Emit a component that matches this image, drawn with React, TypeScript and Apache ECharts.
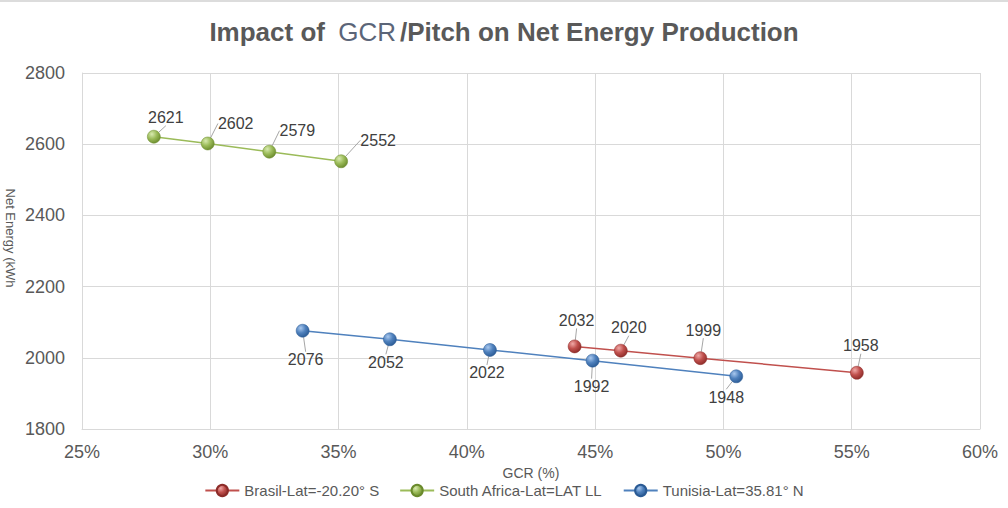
import React, { useEffect, useRef } from "react";
import * as echarts from "echarts";

const seriesNames = ["Brasil-Lat=-20.20° S", "South Africa-Lat=LAT LL", "Tunisia-Lat=35.81° N"];
const brasilGcr = [44.2, 46.0, 49.1, 55.2];
const brasilEnergy = [2032, 2020, 1999, 1958];
const southAfricaGcr = [27.8, 29.9, 32.3, 35.1];
const southAfricaEnergy = [2621, 2602, 2579, 2552];
const tunisiaGcr = [33.6, 37.0, 40.9, 44.9, 50.5];
const tunisiaEnergy = [2076, 2052, 2022, 1992, 1948];
const yAxisTitle = "Net Energy (kWh";

// label offsets (px) relative to marker centre, per series
const labelOffsets: number[][][] = [
  [[2, -26], [8, -23], [3, -28], [4, -27]],
  [[12, -19], [28, -20], [28, -21], [37, -21]],
  [[3, 29], [-4, 23], [-3, 23], [-1, 26], [-10, 21]],
];

const colors = [
  { base: "#c0504d", light: "#f0a9a7", dark: "#8c2b28" },
  { base: "#9bbb59", light: "#d8eab0", dark: "#6a8a2c" },
  { base: "#4f81bd", light: "#a9c8ee", dark: "#2a5a94" },
];

function zip(xs: number[], ys: number[]) {
  return xs.map((x, i) => [x, ys[i]]);
}

export default function App() {
  const ref = useRef<HTMLDivElement>(null);
  useEffect(() => {
    document.body.style.margin = "0";
    if (!ref.current) return;
    const chart = echarts.init(ref.current, null, { renderer: "svg" });
    const datas = [
      zip(brasilGcr, brasilEnergy),
      zip(southAfricaGcr, southAfricaEnergy),
      zip(tunisiaGcr, tunisiaEnergy),
    ];
    const font = "Liberation Sans, Arial, sans-serif";
    chart.setOption({
      animation: false,
      backgroundColor: "#ffffff",
      textStyle: { fontFamily: font },
      graphic: [
        { type: "rect", left: 0, top: 0, shape: { width: 1008, height: 2 }, style: { fill: "#dcdcdc" } },
        {
          type: "text",
          x: 10,
          y: 238,
          rotation: -Math.PI / 2,
          style: {
            text: yAxisTitle,
            fontSize: 13,
            fill: "#595959",
            fontFamily: font,
            align: "center",
            verticalAlign: "middle",
          },
        },
      ],
      title: {
        text: "Impact of {g|GCR}/Pitch on Net Energy Production",
        left: "center",
        top: 14,
        textStyle: {
          fontSize: 26,
          fontWeight: "bold",
          color: "#595959",
          fontFamily: font,
          rich: {
            g: { fontSize: 26, fontWeight: "normal", color: "#5b6578", fontFamily: font, padding: [0, 4, 0, 6] },
          },
        },
      },
      grid: { left: 82, right: 28, top: 73, bottom: 79, containLabel: false, outerBoundsMode: "none" },
      legend: {
        top: 478,
        left: "center",
        itemWidth: 34,
        itemHeight: 14,
        itemGap: 20,
        textStyle: { fontSize: 15, color: "#595959" },
        data: seriesNames,
      },
      xAxis: {
        type: "value",
        min: 25,
        max: 60,
        interval: 5,
        name: "GCR (%)",
        nameLocation: "middle",
        nameGap: 37,
        nameTextStyle: { fontSize: 14, color: "#595959", verticalAlign: "middle" },
        axisLine: { show: true, lineStyle: { color: "#d9d9d9" } },
        axisTick: { show: false },
        axisLabel: { fontSize: 18, color: "#595959", margin: 14, formatter: (v: number) => v + "%" },
        splitLine: { show: true, lineStyle: { color: "#d9d9d9" } },
      },
      yAxis: {
        type: "value",
        min: 1800,
        max: 2800,
        interval: 200,
        axisLine: { show: true, lineStyle: { color: "#d9d9d9" } },
        axisTick: { show: false },
        axisLabel: { fontSize: 18, color: "#595959", margin: 17, formatter: (v: number) => String(v) },
        splitLine: { show: true, lineStyle: { color: "#d9d9d9" } },
      },
      series: datas.map((d, si) => ({
        name: seriesNames[si],
        type: "line",
        data: d,
        symbol: "circle",
        symbolSize: 13,
        lineStyle: { color: colors[si].base, width: 1.5 },
        itemStyle: {
          color: {
            type: "radial",
            x: 0.35,
            y: 0.3,
            r: 0.75,
            colorStops: [
              { offset: 0, color: colors[si].light },
              { offset: 0.5, color: colors[si].base },
              { offset: 1, color: colors[si].dark },
            ],
          },
          borderColor: colors[si].dark,
          borderWidth: 0.5,
        },
        label: {
          show: true,
          position: "top",
          fontSize: 16,
          color: "#404040",
          formatter: (p: any) => String(p.value[1]),
        },
        labelLine: { show: true, length2: 0, lineStyle: { color: "#a6a6a6", width: 1 } },
        labelLayout: (p: any) => {
          const off = labelOffsets[si][p.dataIndex] || [0, -20];
          const cx = p.rect.x + p.rect.width / 2;
          const cy = p.rect.y + p.rect.height / 2;
          return { x: cx + off[0], y: cy + off[1], align: "center", verticalAlign: "middle" };
        },
        z: 3 - si,
      })),
    });
    return () => chart.dispose();
  }, []);
  return <div ref={ref} style={{ width: 1008, height: 508 }} />;
}
